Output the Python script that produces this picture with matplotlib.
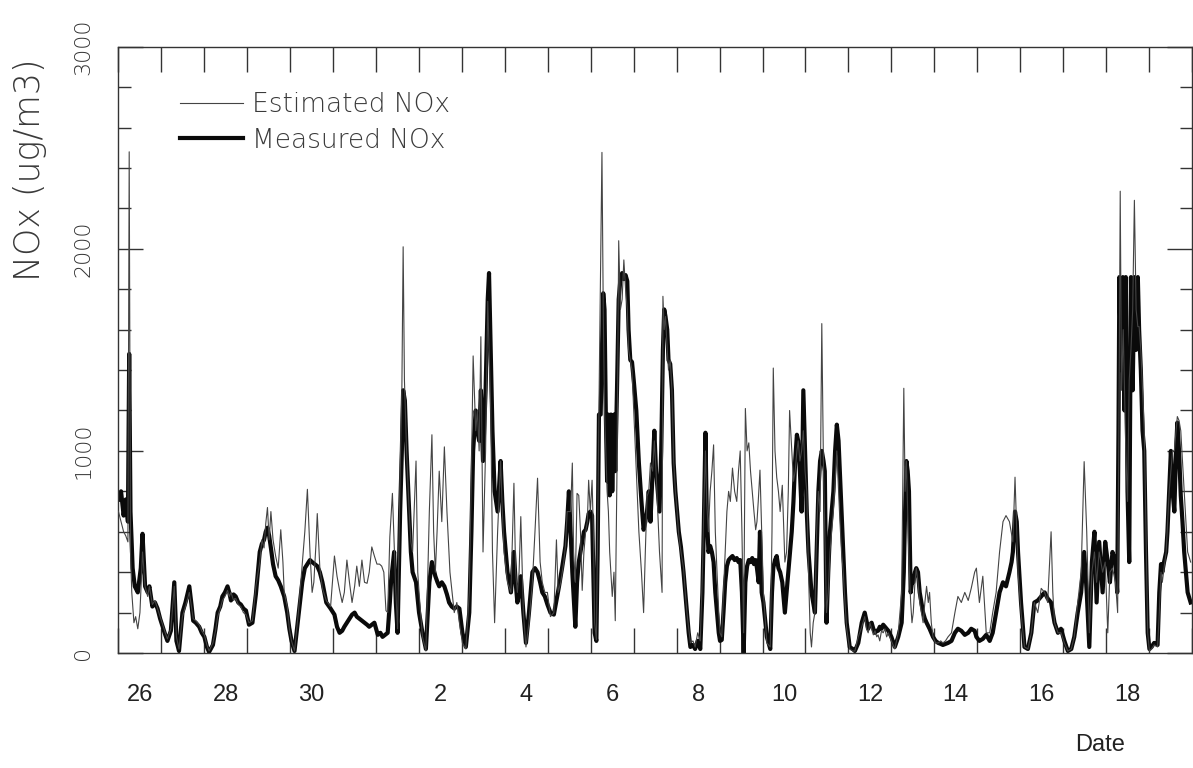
import matplotlib
matplotlib.use('Agg')
import matplotlib.pyplot as plt
from matplotlib.ticker import FixedLocator, MultipleLocator, NullFormatter

# time in days since 26 Oct 00:00, NOx in ug/m3
measured = [
    (0.00, 760), (0.06, 800), (0.12, 680), (0.17, 760), (0.22, 650), (0.25, 1480), (0.28, 700),
    (0.33, 420), (0.38, 330), (0.45, 300), (0.52, 420), (0.56, 590), (0.62, 330), (0.68, 300),
    (0.72, 330), (0.79, 230), (0.85, 250), (0.91, 220), (0.97, 170), (1.03, 130), (1.09, 90),
    (1.14, 60), (1.22, 110), (1.30, 350), (1.35, 60), (1.41, 10), (1.49, 200), (1.56, 250),
    (1.65, 330), (1.70, 240), (1.74, 160), (1.80, 150), (1.88, 130), (1.94, 100), (2.00, 80),
    (2.06, 30), (2.11, 5), (2.20, 40), (2.26, 120), (2.31, 200), (2.37, 230), (2.42, 280),
    (2.48, 300), (2.54, 330), (2.58, 300), (2.62, 260), (2.68, 290), (2.73, 280), (2.79, 250),
    (2.85, 240), (2.91, 220), (2.97, 210), (3.04, 140), (3.12, 150), (3.20, 290), (3.29, 500),
    (3.34, 540), (3.39, 560), (3.43, 600), (3.47, 620), (3.51, 580), (3.55, 520), (3.60, 440),
    (3.66, 380), (3.72, 360), (3.78, 330), (3.86, 280), (3.93, 200), (3.98, 120), (4.03, 60),
    (4.10, 10), (4.19, 180), (4.28, 350), (4.34, 420), (4.40, 440), (4.46, 460), (4.51, 450),
    (4.57, 440), (4.63, 430), (4.69, 400), (4.75, 350), (4.84, 250), (4.94, 220),
    (5.03, 190), (5.09, 130), (5.15, 100), (5.21, 110), (5.26, 130), (5.32, 150), (5.38, 170),
    (5.44, 190), (5.50, 200), (5.55, 180), (5.61, 170), (5.67, 160), (5.73, 150), (5.79, 140),
    (5.84, 130), (5.90, 140), (5.96, 150), (6.04, 90), (6.10, 100), (6.15, 80), (6.21, 90),
    (6.27, 100), (6.32, 250), (6.35, 360), (6.42, 500), (6.46, 250), (6.50, 100), (6.56, 700),
    (6.60, 1000), (6.63, 1300), (6.67, 1250), (6.71, 1000), (6.77, 700), (6.81, 500), (6.85, 400),
    (6.93, 350), (7.00, 200), (7.08, 100), (7.16, 20), (7.24, 350), (7.30, 450), (7.38, 380),
    (7.43, 350), (7.47, 330), (7.53, 350), (7.59, 330), (7.65, 290), (7.70, 250), (7.76, 230),
    (7.82, 220), (7.88, 230), (7.94, 220), (8.01, 100), (8.09, 30), (8.17, 200), (8.22, 600),
    (8.26, 1000), (8.32, 1200), (8.36, 1100), (8.40, 1050), (8.44, 1300), (8.49, 950),
    (8.55, 1300), (8.60, 1750), (8.63, 1880), (8.67, 1500), (8.71, 1100), (8.76, 800),
    (8.83, 700), (8.90, 950), (8.94, 750), (8.98, 600), (9.06, 400), (9.14, 300), (9.21, 500),
    (9.25, 350), (9.29, 250), (9.33, 300), (9.37, 380), (9.43, 200), (9.49, 50), (9.56, 200),
    (9.64, 400), (9.70, 420), (9.76, 400), (9.82, 350), (9.87, 300), (9.93, 280),
    (9.99, 240), (10.06, 200), (10.14, 190), (10.20, 260), (10.26, 330), (10.33, 420),
    (10.41, 530), (10.45, 650), (10.49, 800), (10.53, 600), (10.57, 400), (10.61, 250),
    (10.64, 130), (10.68, 350), (10.72, 450), (10.76, 500), (10.80, 550), (10.84, 600),
    (10.88, 610), (10.92, 650), (10.95, 690), (10.99, 700), (11.03, 680), (11.06, 400),
    (11.09, 100), (11.13, 60), (11.16, 500), (11.19, 1180), (11.23, 1180), (11.26, 1500),
    (11.29, 1780), (11.32, 1700), (11.35, 1180), (11.38, 850), (11.41, 1180), (11.44, 780),
    (11.47, 1180), (11.50, 800), (11.54, 1180), (11.57, 900), (11.61, 1300), (11.65, 1750),
    (11.69, 1850), (11.73, 1880), (11.77, 1850), (11.81, 1870), (11.85, 1840), (11.88, 1600),
    (11.92, 1450), (11.96, 1440), (12.00, 1350), (12.06, 1200), (12.12, 940), (12.18, 750),
    (12.23, 610), (12.27, 650), (12.31, 700), (12.35, 800), (12.39, 650), (12.44, 900),
    (12.48, 1100), (12.52, 900), (12.56, 800), (12.60, 700), (12.64, 1000), (12.68, 1500),
    (12.71, 1700), (12.74, 1665), (12.78, 1600), (12.81, 1450), (12.85, 1430), (12.89, 1300),
    (12.93, 940), (12.97, 800), (13.01, 700), (13.05, 600), (13.10, 525), (13.16, 400),
    (13.20, 300), (13.24, 200), (13.28, 100), (13.32, 30), (13.38, 40), (13.43, 20),
    (13.49, 60), (13.55, 20), (13.60, 300), (13.63, 600), (13.67, 1090), (13.70, 700),
    (13.74, 500), (13.78, 530), (13.82, 500), (13.86, 450), (13.90, 300), (13.94, 200),
    (13.98, 100), (14.01, 60), (14.05, 65), (14.09, 200), (14.13, 350), (14.17, 430),
    (14.21, 460), (14.25, 470), (14.30, 480), (14.35, 460), (14.40, 470), (14.44, 450),
    (14.48, 460), (14.52, 300), (14.56, 0), (14.60, 350), (14.64, 430), (14.68, 460),
    (14.72, 450), (14.76, 470), (14.80, 440), (14.84, 460), (14.87, 420), (14.91, 350),
    (14.94, 600), (14.98, 300), (15.02, 250), (15.10, 80), (15.18, 20), (15.22, 300),
    (15.25, 420), (15.29, 460), (15.33, 480), (15.37, 420), (15.41, 400), (15.46, 350),
    (15.52, 200), (15.56, 300), (15.60, 400), (15.64, 500), (15.68, 600), (15.72, 750),
    (15.76, 950), (15.80, 1080), (15.83, 1050), (15.87, 900), (15.91, 700), (15.95, 1300),
    (15.99, 1000), (16.03, 700), (16.07, 500), (16.14, 300), (16.22, 200), (16.26, 500),
    (16.30, 800), (16.34, 950), (16.38, 1000), (16.42, 950), (16.45, 900), (16.49, 150),
    (16.53, 400), (16.57, 600), (16.61, 700), (16.65, 800), (16.69, 1000), (16.73, 1130),
    (16.77, 1050), (16.80, 900), (16.84, 700), (16.88, 500), (16.92, 300), (16.96, 150),
    (17.03, 30), (17.10, 20), (17.15, 10), (17.23, 50), (17.31, 150), (17.38, 200),
    (17.42, 160), (17.46, 120), (17.50, 140), (17.54, 150), (17.58, 120), (17.62, 100),
    (17.66, 110), (17.69, 110), (17.73, 130), (17.77, 120), (17.81, 140), (17.85, 130),
    (17.89, 120), (17.93, 110), (18.00, 80), (18.08, 30), (18.16, 80), (18.24, 150),
    (18.29, 400), (18.32, 700), (18.35, 950), (18.38, 900), (18.41, 800), (18.45, 300),
    (18.48, 350), (18.51, 350), (18.55, 400), (18.58, 420), (18.62, 400), (18.66, 300),
    (18.70, 250), (18.74, 200), (18.78, 170), (18.82, 150), (18.89, 120), (18.97, 80),
    (19.03, 60), (19.09, 50), (19.15, 45), (19.20, 40), (19.26, 45), (19.32, 50), (19.40, 60),
    (19.48, 100), (19.55, 120), (19.63, 110), (19.71, 90), (19.79, 100), (19.86, 120),
    (19.94, 110), (19.98, 80), (20.05, 60), (20.13, 70), (20.21, 90), (20.29, 60),
    (20.36, 100), (20.44, 200), (20.52, 300), (20.60, 350), (20.67, 330), (20.75, 400),
    (20.80, 450), (20.83, 500), (20.88, 700), (20.92, 650), (20.95, 500), (21.02, 250),
    (21.10, 30), (21.18, 20), (21.26, 100), (21.33, 250), (21.41, 260), (21.49, 280),
    (21.57, 300), (21.64, 270), (21.72, 250), (21.80, 150), (21.88, 100), (21.95, 120),
    (22.03, 60), (22.11, 10), (22.19, 20), (22.26, 80), (22.34, 200), (22.42, 300),
    (22.49, 500), (22.55, 300), (22.61, 30), (22.67, 450), (22.73, 600), (22.78, 250),
    (22.84, 550), (22.92, 300), (22.98, 550), (23.04, 450), (23.09, 350), (23.15, 500),
    (23.22, 450), (23.26, 300), (23.29, 1100), (23.31, 1860), (23.35, 1400), (23.39, 1860),
    (23.43, 1200), (23.46, 1860), (23.50, 800), (23.54, 450), (23.58, 1860), (23.62, 1300),
    (23.66, 1860), (23.70, 1500), (23.74, 1860), (23.77, 1600), (23.81, 1400), (23.85, 1100),
    (23.89, 1000), (23.93, 500), (23.97, 100), (24.01, 20), (24.06, 30), (24.12, 50),
    (24.20, 40), (24.24, 300), (24.28, 440), (24.31, 400), (24.35, 450), (24.40, 500),
    (24.43, 600), (24.47, 800), (24.51, 1000), (24.55, 800), (24.59, 700), (24.63, 1000),
    (24.66, 1140), (24.70, 1000), (24.74, 780), (24.78, 650), (24.82, 500), (24.86, 400),
    (24.90, 300), (24.97, 250),
]

estimated = [
    (0.00, 700), (0.06, 650), (0.12, 600), (0.17, 580), (0.22, 550), (0.25, 2480), (0.28, 500),
    (0.31, 300), (0.36, 150), (0.40, 180), (0.45, 120), (0.50, 200), (0.56, 500), (0.62, 330),
    (0.68, 280), (0.72, 330), (0.79, 240), (0.85, 260), (0.91, 220), (0.97, 180), (1.03, 140),
    (1.09, 100), (1.14, 70), (1.22, 120), (1.30, 330), (1.35, 80), (1.41, 20), (1.49, 180),
    (1.56, 230), (1.65, 300), (1.70, 230), (1.74, 170), (1.80, 160), (1.88, 140), (1.94, 110),
    (2.00, 90), (2.06, 40), (2.11, 10), (2.20, 50), (2.26, 110), (2.31, 180), (2.37, 220),
    (2.42, 260), (2.48, 280), (2.54, 310), (2.58, 280), (2.62, 300), (2.68, 260), (2.73, 270),
    (2.79, 240), (2.85, 230), (2.91, 200), (2.97, 190), (3.04, 150), (3.12, 160), (3.20, 330),
    (3.29, 450), (3.34, 560), (3.39, 520), (3.43, 640), (3.47, 720), (3.51, 560), (3.55, 700),
    (3.60, 560), (3.66, 480), (3.72, 420), (3.78, 610), (3.83, 450), (3.86, 300), (3.93, 230),
    (3.98, 120), (4.03, 60), (4.10, 10), (4.19, 200), (4.28, 440), (4.34, 600), (4.40, 810),
    (4.46, 500), (4.51, 300), (4.55, 350), (4.60, 540), (4.63, 690), (4.69, 420), (4.75, 320),
    (4.84, 260), (4.94, 230),
    (5.03, 480), (5.09, 380), (5.15, 310), (5.21, 250), (5.26, 300), (5.32, 460), (5.38, 350),
    (5.44, 250), (5.50, 330), (5.55, 430), (5.61, 330), (5.67, 460), (5.73, 350), (5.79, 345),
    (5.84, 400), (5.90, 525), (5.96, 480), (6.02, 440), (6.08, 440), (6.13, 430), (6.18, 400),
    (6.23, 210), (6.27, 200), (6.32, 575), (6.38, 790), (6.42, 550), (6.46, 300), (6.50, 120),
    (6.56, 900), (6.60, 1300), (6.63, 2010), (6.66, 1350), (6.71, 1000), (6.77, 700),
    (6.81, 550), (6.85, 500), (6.93, 950), (6.97, 400), (7.00, 300), (7.08, 80), (7.16, 10),
    (7.24, 700), (7.30, 1080), (7.34, 600), (7.38, 400), (7.42, 600), (7.47, 900), (7.53, 650),
    (7.59, 1020), (7.65, 700), (7.72, 400), (7.82, 200), (7.88, 250), (7.94, 150), (8.01, 50),
    (8.09, 20), (8.17, 300), (8.22, 900), (8.26, 1470), (8.32, 1100), (8.36, 1200),
    (8.40, 1000), (8.44, 1565), (8.49, 500), (8.55, 1000), (8.60, 1740), (8.63, 1500),
    (8.67, 1200), (8.71, 500), (8.76, 150), (8.80, 400), (8.83, 600), (8.90, 950), (8.94, 700),
    (8.98, 500), (9.06, 350), (9.14, 300), (9.21, 840), (9.25, 400), (9.29, 300), (9.33, 400),
    (9.37, 675), (9.43, 200), (9.49, 30), (9.56, 150), (9.64, 350), (9.70, 600), (9.76, 865),
    (9.82, 450), (9.87, 350), (9.93, 300),
    (9.99, 300), (10.06, 180), (10.14, 200), (10.20, 560), (10.24, 300), (10.30, 350),
    (10.37, 450), (10.41, 530), (10.45, 700), (10.53, 700), (10.57, 940), (10.60, 500),
    (10.64, 350), (10.68, 790), (10.72, 780), (10.76, 600), (10.80, 310), (10.84, 500),
    (10.88, 600), (10.92, 650), (10.95, 855), (10.99, 700), (11.03, 855), (11.06, 600),
    (11.09, 150), (11.13, 65), (11.16, 600), (11.20, 1400), (11.26, 2477), (11.29, 1700),
    (11.32, 1200), (11.35, 1000), (11.38, 800), (11.41, 700), (11.44, 500), (11.50, 280),
    (11.54, 400), (11.57, 160), (11.61, 900), (11.65, 2040), (11.69, 1700), (11.73, 1750),
    (11.77, 1945), (11.81, 1800), (11.85, 1700), (11.88, 1500), (11.92, 1450), (11.96, 1400),
    (12.00, 1200), (12.06, 900), (12.12, 600), (12.18, 400), (12.23, 200), (12.27, 500),
    (12.31, 775), (12.35, 800), (12.39, 940), (12.44, 900), (12.48, 1050), (12.52, 900),
    (12.56, 700), (12.60, 500), (12.66, 300), (12.68, 1765), (12.71, 1600), (12.74, 1665),
    (12.78, 1500), (12.81, 1400), (12.85, 1450), (12.89, 1300), (12.93, 950), (12.97, 800),
    (13.01, 700), (13.05, 580), (13.10, 500), (13.16, 420), (13.20, 300), (13.24, 200),
    (13.28, 120), (13.32, 50), (13.38, 60), (13.43, 30), (13.49, 100), (13.55, 60),
    (13.60, 400), (13.63, 700), (13.67, 1000), (13.70, 750), (13.74, 600), (13.78, 800),
    (13.82, 900), (13.86, 1030), (13.90, 600), (13.94, 400), (13.98, 200), (14.01, 100),
    (14.05, 80), (14.09, 300), (14.13, 500), (14.17, 700), (14.21, 800), (14.25, 750),
    (14.30, 915), (14.35, 800), (14.40, 750), (14.44, 900), (14.48, 1000), (14.52, 600),
    (14.56, 100), (14.60, 1210), (14.64, 1000), (14.68, 1040), (14.72, 900), (14.76, 800),
    (14.80, 700), (14.84, 610), (14.87, 650), (14.90, 750), (14.94, 905), (15.02, 300),
    (15.10, 50), (15.18, 30), (15.22, 600), (15.25, 1410), (15.29, 1000), (15.33, 870),
    (15.37, 800), (15.41, 700), (15.46, 830), (15.52, 450), (15.56, 500), (15.60, 800),
    (15.63, 1200), (15.68, 1000), (15.72, 850), (15.76, 900), (15.80, 1000), (15.83, 1050),
    (15.87, 950), (15.91, 1000), (15.95, 1100), (15.99, 900), (16.03, 800), (16.07, 400),
    (16.11, 100), (16.14, 30), (16.18, 150), (16.22, 200), (16.26, 600), (16.30, 800),
    (16.34, 700), (16.38, 1630), (16.42, 900), (16.45, 600), (16.49, 200), (16.53, 300),
    (16.57, 500), (16.61, 600), (16.65, 700), (16.69, 850), (16.73, 1000), (16.77, 800),
    (16.80, 660), (16.84, 500), (16.88, 400), (16.92, 250), (16.96, 120), (17.03, 20),
    (17.10, 10), (17.15, 10), (17.23, 80), (17.31, 130), (17.38, 180), (17.42, 120),
    (17.46, 100), (17.50, 150), (17.54, 120), (17.58, 90), (17.62, 110), (17.66, 80),
    (17.69, 90), (17.73, 60), (17.77, 110), (17.81, 100), (17.85, 120), (17.89, 80),
    (17.93, 100), (18.00, 60), (18.08, 20), (18.16, 100), (18.24, 300), (18.29, 1310),
    (18.32, 800), (18.35, 950), (18.38, 700), (18.41, 450), (18.45, 250), (18.48, 150),
    (18.51, 200), (18.55, 350), (18.58, 420), (18.62, 350), (18.66, 250), (18.70, 200),
    (18.74, 150), (18.78, 250), (18.82, 330), (18.86, 250), (18.89, 300), (18.93, 150),
    (18.97, 80), (19.03, 50), (19.09, 50), (19.15, 60), (19.20, 50), (19.26, 60), (19.32, 80),
    (19.40, 100), (19.48, 200), (19.55, 280), (19.63, 250), (19.71, 300), (19.79, 260),
    (19.86, 320), (19.94, 400), (19.98, 420), (20.05, 250), (20.13, 380), (20.21, 100),
    (20.29, 100), (20.36, 200), (20.44, 300), (20.52, 500), (20.60, 650), (20.67, 680),
    (20.75, 650), (20.83, 550), (20.88, 870), (20.92, 600), (20.95, 400), (21.02, 200),
    (21.10, 30), (21.18, 20), (21.26, 100), (21.33, 250), (21.41, 200), (21.49, 320),
    (21.57, 300), (21.64, 250), (21.72, 600), (21.76, 300), (21.80, 150), (21.88, 100),
    (21.95, 100), (22.03, 50), (22.11, 10), (22.19, 20), (22.26, 80), (22.34, 250),
    (22.42, 400), (22.49, 947), (22.55, 600), (22.61, 100), (22.67, 400), (22.73, 500),
    (22.78, 350), (22.84, 500), (22.92, 400), (22.98, 450), (23.04, 100), (23.09, 400),
    (23.15, 420), (23.22, 350), (23.27, 200), (23.31, 1500), (23.33, 2285), (23.36, 1300),
    (23.40, 1600), (23.46, 1000), (23.50, 750), (23.54, 1350), (23.58, 1500), (23.62, 1700),
    (23.66, 2240), (23.70, 1700), (23.74, 1615), (23.77, 1615), (23.81, 1500), (23.85, 1300),
    (23.89, 1100), (23.93, 600), (23.97, 100), (24.01, 10), (24.06, 20), (24.12, 40),
    (24.20, 30), (24.24, 200), (24.28, 400), (24.31, 350), (24.35, 420), (24.40, 500),
    (24.43, 625), (24.47, 800), (24.51, 900), (24.55, 1000), (24.59, 1000), (24.63, 1100),
    (24.66, 1170), (24.70, 1150), (24.74, 1100), (24.78, 950), (24.82, 800), (24.86, 650),
    (24.90, 500), (24.97, 450),
]

date_labels = ['26', '28', '30', '2', '4', '6', '8', '10', '12', '14', '16', '18']
label_days = [0.5, 2.5, 4.5, 7.5, 9.5, 11.5, 13.5, 15.5, 17.5, 19.5, 21.5, 23.5]
n_days = 25

thin_font = ['DejaVu Sans']
label_font = ['Liberation Sans', 'DejaVu Sans']

fig = plt.figure(figsize=(11.93, 7.68), dpi=100)
ax = fig.add_axes([0.0993, 0.1497, 0.8998, 0.7895])

meas_t, meas_v = zip(*measured)
est_t, est_v = zip(*estimated)
ax.plot(est_t, est_v, color='#444444', lw=0.8, label='Estimated NOx', zorder=3)
ax.plot(meas_t, meas_v, color='#0a0a0a', lw=3.0, label='Measured NOx', zorder=2)

ax.set_xlim(0, n_days)
ax.set_ylim(0, 3000)

# day ticks on top and bottom, date labels centred on each day
ax.xaxis.set_major_locator(MultipleLocator(1))
ax.xaxis.set_major_formatter(NullFormatter())
ax.xaxis.set_minor_locator(FixedLocator(label_days))
ax.set_xticklabels(date_labels, minor=True, fontfamily=label_font, fontsize=17, color='#222222')
ax.tick_params(axis='x', which='major', direction='in', length=18, width=1.0,
               top=True, bottom=True, color='#333333')
ax.tick_params(axis='x', which='minor', length=0, pad=22)

ax.yaxis.set_major_locator(MultipleLocator(1000))
ax.yaxis.set_minor_locator(MultipleLocator(200))
ax.tick_params(axis='y', which='major', direction='in', length=18, width=1.0,
               left=True, right=True, pad=18, color='#333333')
ax.tick_params(axis='y', which='minor', direction='in', length=9, width=1.0,
               left=True, right=True, color='#333333')
for lab in ax.get_yticklabels():
    lab.set_rotation(90)
    lab.set_va('center')
    lab.set_fontsize(16)
    lab.set_fontfamily(thin_font)
    lab.set_fontweight('light')
    lab.set_color('#333333')

for s in ax.spines.values():
    s.set_linewidth(1.0)
    s.set_color('#333333')

fig.text(30 / 1193, 1 - 170 / 768, 'NOx (ug/m3)', rotation=90, ha='center', va='center',
         fontsize=25, fontfamily=thin_font, fontweight='light', color='#3a3a3a')
fig.text(1100 / 1193, 1 - 745 / 768, 'Date', ha='center', va='center',
         fontsize=17, fontfamily=label_font, color='#222222')

leg = ax.legend(loc='upper left', bbox_to_anchor=(0.057, 0.925), frameon=False,
                handlelength=2.4, handletextpad=0.35, labelspacing=0.4,
                borderpad=0, borderaxespad=0,
                prop={'family': thin_font, 'size': 19, 'weight': 'light'})
for txt in leg.get_texts():
    txt.set_color('#3a3a3a')

fig.savefig('out.png', dpi=100)
